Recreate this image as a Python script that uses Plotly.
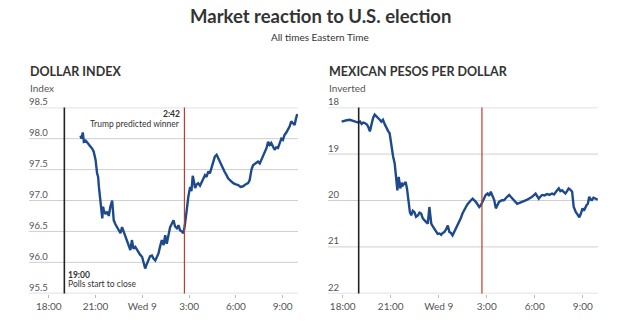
import plotly.graph_objects as go
from datetime import datetime

# ---------------- data ----------------
dollar_times = ["20:02","20:06","20:11","20:15","20:22","20:28","20:35","20:41","20:47","20:53",
"21:00","21:06","21:10","21:13","21:19","21:23","21:26","21:29","21:32","21:38","21:45","21:51","21:57",
"22:04","22:07","22:10","22:16","22:23","22:30","22:36","22:42","22:48","22:55","23:01","23:07","23:14",
"23:20","23:26","23:33","23:40","23:46","23:52","23:59","00:05","00:11","00:17","00:24","00:30","00:37",
"00:43","00:50","00:56","01:02","01:08","01:15","01:22","01:28","01:34","01:40","01:47","01:53","02:00",
"02:06","02:13","02:19","02:25","02:32","02:38","02:42","02:45","02:51","02:57","03:04","03:09","03:14",
"03:19","03:23","03:29","03:35","03:42","03:49","03:55","04:01","04:07","04:14","04:20","04:27","04:33",
"04:39","04:46","04:52","04:59","05:05","05:11","05:17","05:24","05:30","05:37","05:43","05:50","06:00",
"06:09","06:18","06:28","06:37","06:47","06:53","07:00","07:06","07:15","07:25","07:32","07:38","07:45",
"07:51","07:58","08:04","08:10","08:16","08:22","08:29","08:35","08:42","08:48","08:55","09:01","09:07",
"09:14","09:20","09:27","09:33","09:40","09:46","09:51","09:56"]
dollar_values = [98.05,98.00,98.10,97.95,97.97,97.93,97.90,97.87,97.84,97.79,
97.66,97.44,97.38,97.22,97.00,96.88,96.71,96.90,96.84,96.78,96.82,96.75,96.90,
97.00,96.80,96.68,96.62,96.57,96.50,96.47,96.57,96.50,96.44,96.38,96.30,96.20,
96.36,96.22,96.25,96.20,96.17,96.12,96.09,96.00,95.90,95.97,96.03,96.10,96.11,
96.06,96.03,96.08,96.14,96.25,96.36,96.28,96.44,96.30,96.45,96.57,96.62,96.68,
96.58,96.55,96.60,96.52,96.50,96.47,96.55,96.63,96.85,97.06,97.22,97.15,97.40,
97.30,97.20,97.26,97.28,97.24,97.30,97.36,97.41,97.38,97.47,97.44,97.55,97.60,
97.71,97.74,97.68,97.63,97.58,97.52,97.46,97.41,97.36,97.33,97.30,97.28,97.26,
97.25,97.22,97.23,97.26,97.28,97.33,97.50,97.57,97.60,97.63,97.60,97.66,97.70,
97.76,97.85,97.95,97.90,97.93,97.87,97.82,97.86,97.85,97.92,98.00,97.98,98.06,
98.10,98.14,98.20,98.28,98.24,98.22,98.32,98.40]

peso_times = ["17:56","18:05","18:15","18:27","18:37","18:46","18:58","19:05","19:11","19:17","19:23",
"19:30","19:35","19:42","19:48","19:54","20:00","20:06","20:13","20:19","20:25","20:31","20:38","20:44",
"20:50","20:56","21:03","21:09","21:15","21:21","21:25","21:30","21:33","21:36","21:41","21:46","21:51",
"21:56","22:01","22:05","22:08","22:12","22:17","22:23","22:29","22:35","22:42","22:48","22:54","23:00",
"23:07","23:13","23:19","23:25","23:32","23:38","23:44","23:50","23:56","00:03","00:09","00:15","00:21",
"00:28","00:34","00:40","00:46","00:52","00:58","01:05","01:11","01:17","01:23","01:29","01:35","01:42",
"01:48","01:54","02:00","02:07","02:13","02:19","02:25","02:32","02:38","02:44","02:50","02:56","03:03",
"03:09","03:15","03:21","03:28","03:34","03:40","03:46","03:55","04:05","04:15","04:24","04:30","04:36",
"04:45","04:54","05:03","05:13","05:22","05:32","05:41","05:50","06:03","06:09","06:15","06:22","06:28",
"06:37","06:46","06:55","07:05","07:12","07:18","07:24","07:30","07:36","07:42","07:48","07:55","08:01",
"08:07","08:14","08:20","08:26","08:30","08:34","08:40","08:47","08:53","08:59","09:04","09:09","09:14",
"09:19","09:24","09:29","09:34","09:40","09:47","09:56"]
peso_values = [18.30,18.28,18.27,18.26,18.28,18.30,18.32,18.30,18.35,18.32,18.33,
18.36,18.40,18.51,18.33,18.22,18.15,18.18,18.22,18.26,18.30,18.26,18.36,18.44,
18.50,18.55,18.84,19.05,19.20,19.49,19.78,19.49,19.65,19.74,19.62,19.67,19.64,
19.60,19.74,19.95,20.14,20.25,20.32,20.22,20.25,20.35,20.32,20.26,20.28,20.38,
20.43,20.46,20.50,20.14,20.50,20.56,20.61,20.68,20.72,20.71,20.74,20.70,20.68,
20.62,20.54,20.68,20.70,20.75,20.68,20.61,20.55,20.46,20.38,20.28,20.20,20.14,
20.08,20.03,20.00,19.96,19.99,20.03,20.08,20.14,20.10,20.02,19.92,19.88,19.85,
19.90,19.81,19.88,19.99,20.17,20.08,20.03,20.00,19.99,19.93,19.88,19.92,19.96,
20.02,20.07,20.05,20.03,20.01,19.98,19.95,19.92,19.85,19.92,19.96,19.91,19.88,
19.89,19.86,19.88,19.85,19.87,19.81,19.78,19.74,19.80,19.78,19.82,19.85,19.80,
19.74,19.77,19.81,20.14,20.20,20.25,20.30,20.36,20.28,20.17,20.22,20.14,20.10,
20.07,19.92,19.98,19.99,19.94,19.96,19.98]

x_tick_times = ["18:00", "21:00", "00:00", "03:00", "06:00", "09:00"]
x_tick_labels = ["18:00", "21:00", "Wed 9", "3:00", "6:00", "9:00"]
dollar_ticks = [95.5, 96.0, 96.5, 97.0, 97.5, 98.0, 98.5]
dollar_tick_labels = ["95.5", "96.0", "96.5", "97.0", "97.5", "98.0", "98.5"]
peso_ticks = [18, 19, 20, 21, 22]
peso_tick_labels = ["18", "19", "20", "21", "22"]
polls_close = "19:00"
trump_winner = "02:42"
dollar_range_times = ["16:44", "09:59"]
peso_range_times = ["17:05", "09:57"]
dollar_range = [95.5, 98.5]
peso_range = [22, 18]


def to_dt(s):
    h, m = map(int, s.split(":"))
    day = 8 if h >= 12 else 9
    return datetime(2016, 11, day, h, m)


LINE = "#1d4a8c"
GRID = "#cfcfcf"
TXT = "#333333"
SUB = "#555555"
FONT = "Lato"
EPS = 0.004

fig = go.Figure()
fig.add_trace(go.Scatter(x=[to_dt(t) for t in dollar_times], y=dollar_values, mode="lines",
                         line=dict(color=LINE, width=2.4), xaxis="x", yaxis="y", showlegend=False,
                         hoverinfo="skip"))
fig.add_trace(go.Scatter(x=[to_dt(t) for t in peso_times], y=peso_values, mode="lines",
                         line=dict(color=LINE, width=2.4), xaxis="x2", yaxis="y2", showlegend=False,
                         hoverinfo="skip"))

ydom = [1 - 293.5 / 330, 1 - 107.5 / 330]
xcommon = dict(tickvals=[to_dt(t) for t in x_tick_times], ticktext=x_tick_labels,
               showgrid=False, zeroline=False, showline=False, ticks="outside", ticklen=3,
               tickcolor="#bbbbbb", tickfont=dict(family=FONT, size=10, color=SUB))
ycommon = dict(showgrid=False, zeroline=False, showline=False, ticks="", showticklabels=False)

fig.update_layout(
    width=640, height=330,
    margin=dict(l=0, r=0, t=0, b=0),
    paper_bgcolor="white", plot_bgcolor="white",
    xaxis=dict(domain=[29 / 640, 298 / 640], anchor="y",
               range=[to_dt(t) for t in dollar_range_times], **xcommon),
    yaxis=dict(domain=ydom, anchor="x", range=[dollar_range[0] - EPS, dollar_range[1] + EPS],
               tickvals=dollar_ticks, **ycommon),
    xaxis2=dict(domain=[328 / 640, 598 / 640], anchor="y2",
                range=[to_dt(t) for t in peso_range_times], **xcommon),
    yaxis2=dict(domain=ydom, anchor="x2", range=[peso_range[0] + EPS, peso_range[1] - EPS],
                tickvals=peso_ticks, **ycommon),
)

# gridlines and y tick labels sitting above them
for xr, yr, vals, labs in [("x domain", "y", dollar_ticks, dollar_tick_labels),
                           ("x2 domain", "y2", peso_ticks, peso_tick_labels)]:
    for v, lab in zip(vals, labs):
        fig.add_shape(type="line", xref=xr, yref=yr, x0=0, x1=1, y0=v, y1=v, layer="below",
                      line=dict(color=GRID, width=1))
        fig.add_annotation(text=lab, xref=xr, yref=yr, x=0, y=v, xanchor="left",
                           yanchor="bottom", showarrow=False, xshift=-2, yshift=-1.5,
                           font=dict(family=FONT, size=9.5, color=SUB))

# event lines
for xr, yr in [("x", "y domain"), ("x2", "y2 domain")]:
    fig.add_shape(type="line", xref=xr, yref=yr, x0=to_dt(polls_close), x1=to_dt(polls_close),
                  y0=0, y1=1, line=dict(color="#222222", width=1.6))
    fig.add_shape(type="line", xref=xr, yref=yr, x0=to_dt(trump_winner), x1=to_dt(trump_winner),
                  y0=0, y1=1, line=dict(color="#c0392b", width=1.2))


def ann(text, x, y, size, color=TXT, bold=False, xanchor="left"):
    fig.add_annotation(text=f"<b>{text}</b>" if bold else text, xref="paper", yref="paper",
                       x=x / 640, y=1 - y / 330, xanchor=xanchor, yanchor="middle",
                       showarrow=False, font=dict(family=FONT, size=size, color=color))


ann("Market reaction to U.S. election", 320, 16, 18.5, bold=True, xanchor="center")
ann("All times Eastern Time", 320, 37, 10, xanchor="center")
ann("DOLLAR INDEX", 28, 72, 12.5, bold=True)
ann("Index", 28, 88, 10, color=SUB)
ann("MEXICAN PESOS PER DOLLAR", 327, 72, 12.5, bold=True)
ann("Inverted", 327, 88, 10, color=SUB)
ann("2:42", 182, 114.5, 8.5, bold=True, xanchor="right")
ann("Trump predicted winner", 182, 124, 8.5, xanchor="right")
ann("19:00", 66, 274.5, 8.5, bold=True)
ann("Polls start to close", 66, 284, 8.5)

fig.write_html("out.html")
